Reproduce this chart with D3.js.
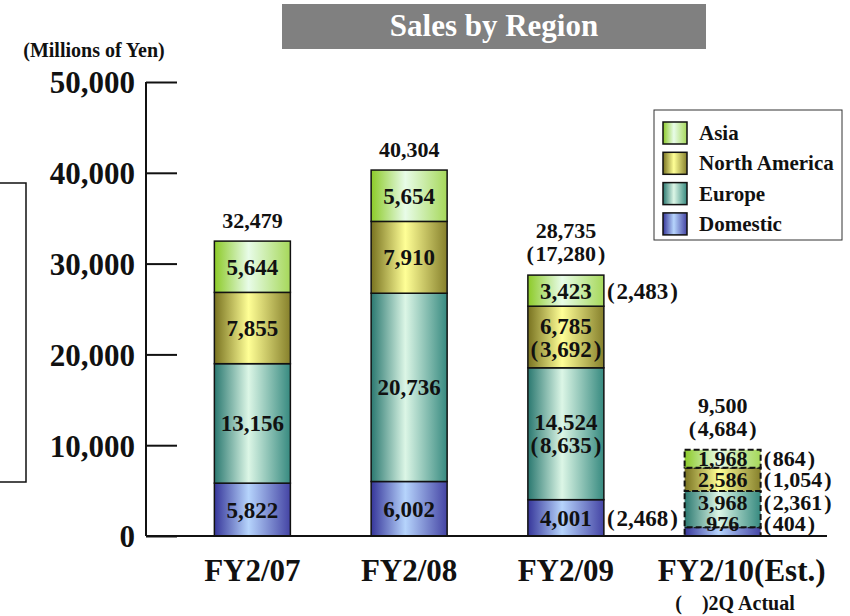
<!DOCTYPE html>
<html>
<head>
<meta charset="utf-8">
<script src="https://cdn.jsdelivr.net/npm/d3@7"></script>
<style>
  html, body { margin: 0; padding: 0; background: #fff; }
  svg { display: block; }
  text { font-family: "Liberation Serif", "Times New Roman", serif; font-weight: bold; fill: #111; }
</style>
</head>
<body>
<svg id="chart" width="850" height="616"></svg>
<script>
// ---------- data ----------
const categories = ["FY2/07", "FY2/08", "FY2/09", "FY2/10(Est.)"];
const regionKeys = ["Domestic", "Europe", "North America", "Asia"];
const domestic     = [5822, 6002, 4001, 976];
const europe       = [13156, 20736, 14524, 3968];
const northAmerica = [7855, 7910, 6785, 2586];
const asia         = [5644, 5654, 3423, 1968];
const totals       = [32479, 40304, 28735, 9500];
// 2Q actual figures (shown in parentheses)
const domesticActual     = [null, null, 2468, 404];
const europeActual       = [null, null, 8635, 2361];
const northAmericaActual = [null, null, 3692, 1054];
const asiaActual         = [null, null, 2483, 864];
const totalActual        = [null, null, 17280, 4684];
const estimated          = [false, false, false, true];
const yTickValues = [0, 10000, 20000, 30000, 40000, 50000];
const legendOrder = ["Asia", "North America", "Europe", "Domestic"];

// ---------- setup ----------
const svg = d3.select("#chart");
const fmt = d3.format(",");
const paren = v => "(\u200A" + fmt(v) + "\u200A)";

const seriesValues = { "Domestic": domestic, "Europe": europe, "North America": northAmerica, "Asia": asia };
const seriesActual = { "Domestic": domesticActual, "Europe": europeActual, "North America": northAmericaActual, "Asia": asiaActual };
const table = categories.map((c, i) => {
  const row = { category: c, index: i };
  regionKeys.forEach(k => row[k] = seriesValues[k][i]);
  return row;
});
const stacked = d3.stack().keys(regionKeys)(table);

const x = d3.scalePoint().domain(categories).range([174, 801]).padding(0.5);
const y = d3.scaleLinear().domain([0, 50000]).range([536, 82]);
const barW = 76;

// gradients
const gradientDefs = {
  "Domestic":      ["#36369a", "#b6d4fc", "#4444a4"],
  "Europe":        ["#2a7870", "#dcf6e6", "#378a80"],
  "North America": ["#787220", "#ffff96", "#86802c"],
  "Asia":          ["#8cca28", "#e8fce8", "#a6d85a"]
};
const defs = svg.append("defs");
regionKeys.forEach((k, i) => {
  const g = defs.append("linearGradient").attr("id", "grad" + i)
    .attr("x1", "0%").attr("x2", "100%").attr("y1", "0%").attr("y2", "0%");
  const c = gradientDefs[k];
  g.append("stop").attr("offset", "0%").attr("stop-color", c[0]);
  g.append("stop").attr("offset", "45%").attr("stop-color", c[1]);
  g.append("stop").attr("offset", "100%").attr("stop-color", c[2]);
});
const gradId = k => "url(#grad" + regionKeys.indexOf(k) + ")";

// ---------- title ----------
svg.append("rect").attr("x", 282).attr("y", 4).attr("width", 424).attr("height", 45).attr("fill", "#808080");
svg.append("text").attr("x", 494).attr("y", 36).attr("text-anchor", "middle")
  .style("font-size", "31px").style("fill", "#fff").text("Sales by Region");

// unit label
svg.append("text").attr("x", 94).attr("y", 57).attr("text-anchor", "middle")
  .style("font-size", "20px").text("(Millions of Yen)");

// stray bracket at left
svg.append("path").attr("d", "M0,183 H26 V482 H0").attr("fill", "none").attr("stroke", "#111").attr("stroke-width", 1.5);

// ---------- y axis ----------
const yAxis = d3.axisRight(y).tickValues(yTickValues).tickSize(31).tickFormat(d => fmt(d));
const gy = svg.append("g").attr("transform", "translate(146,0)").call(yAxis);
gy.select(".domain").remove();
gy.selectAll(".tick line").attr("stroke", "#111").attr("stroke-width", 2);
gy.selectAll(".tick text").attr("x", -11).attr("dy", "0.35em").attr("text-anchor", "end")
  .style("font-size", "31px").style("font-family", "'Liberation Serif', serif").style("font-weight", "bold").attr("fill", "#111");
svg.append("line").attr("x1", 146).attr("x2", 146).attr("y1", y(50000)).attr("y2", y(0))
  .attr("stroke", "#111").attr("stroke-width", 2);

// ---------- bars ----------
const layers = svg.append("g").selectAll("g").data(stacked).join("g")
  .attr("fill", d => gradId(d.key));
layers.selectAll("rect").data(d => d).join("rect")
  .attr("x", d => x(d.data.category) - barW / 2)
  .attr("width", barW)
  .attr("y", d => y(d[1]))
  .attr("height", d => y(d[0]) - y(d[1]))
  .attr("stroke", "#111")
  .attr("stroke-width", d => estimated[d.data.index] ? 2 : 1.5)
  .attr("stroke-dasharray", d => estimated[d.data.index] ? "6,3" : null);

// baseline
svg.append("line").attr("x1", 146).attr("x2", 827).attr("y1", y(0)).attr("y2", y(0))
  .attr("stroke", "#111").attr("stroke-width", 2);

// ---------- segment labels ----------
const segFont = 23;
const labelG = svg.append("g");
categories.forEach((c, i) => {
  let prevY = y(0) + 8;
  const cx = x(c);
  const small = estimated[i];
  const fs = small ? 22 : segFont;
  stacked.forEach(layer => {
    const d = layer[i];
    const key = layer.key;
    const top = y(d[1]), bot = y(d[0]);
    const h = bot - top;
    const value = seriesValues[key][i];
    const act = seriesActual[key][i];
    const center = (top + bot) / 2;
    if (act != null && h > 50) {
      // two lines inside
      const gap = 23;
      labelG.append("text").attr("x", cx).attr("y", center - gap / 2 + fs * 0.35)
        .attr("text-anchor", "middle").style("font-size", fs + "px").text(fmt(value));
      labelG.append("text").attr("x", cx).attr("y", center + gap / 2 + fs * 0.35)
        .attr("text-anchor", "middle").style("font-size", fs + "px").text(paren(act));
      prevY = center - gap / 2;
    } else {
      const ly = Math.min(center, prevY - 21);
      prevY = ly;
      labelG.append("text").attr("x", cx).attr("y", ly + fs * 0.35)
        .attr("text-anchor", "middle").style("font-size", fs + "px").text(fmt(value));
      if (act != null) {
        labelG.append("text").attr("x", cx + barW / 2 + 3).attr("y", ly + fs * 0.35)
          .attr("text-anchor", "start").style("font-size", fs + "px").text(paren(act));
      }
    }
  });
  // totals
  const topY = y(totals[i]);
  if (totalActual[i] != null) {
    labelG.append("text").attr("x", cx).attr("y", topY - 14)
      .attr("text-anchor", "middle").style("font-size", "22px").text(paren(totalActual[i]));
    labelG.append("text").attr("x", cx).attr("y", topY - 14 - 23)
      .attr("text-anchor", "middle").style("font-size", "22px").text(fmt(totals[i]));
  } else {
    labelG.append("text").attr("x", cx).attr("y", topY - 13)
      .attr("text-anchor", "middle").style("font-size", "22px").text(fmt(totals[i]));
  }
});

// ---------- x axis labels ----------
svg.append("g").selectAll("text").data(categories).join("text")
  .attr("x", (d, i) => x(d) + (estimated[i] ? 19 : 0))
  .attr("y", 581)
  .attr("text-anchor", "middle")
  .style("font-size", "31px")
  .text(d => d);

svg.append("text").attr("x", 735).attr("y", 610).attr("text-anchor", "middle")
  .style("font-size", "20px").text("(\u2002\u2002)2Q Actual");

// ---------- legend ----------
const legend = svg.append("g");
legend.append("rect").attr("x", 654).attr("y", 110).attr("width", 188).attr("height", 130)
  .attr("fill", "#fff").attr("stroke", "#333").attr("stroke-width", 1);
const rows = legend.selectAll("g.row").data(legendOrder).join("g").attr("class", "row")
  .attr("transform", (d, i) => "translate(0," + (133 + i * 30.3) + ")");
rows.append("rect").attr("x", 663).attr("y", -11).attr("width", 24).attr("height", 22)
  .attr("fill", d => gradId(d)).attr("stroke", "#111").attr("stroke-width", 1.5);
rows.append("text").attr("x", 699).attr("y", 7).style("font-size", "21px").text(d => d);
</script>
</body>
</html>
